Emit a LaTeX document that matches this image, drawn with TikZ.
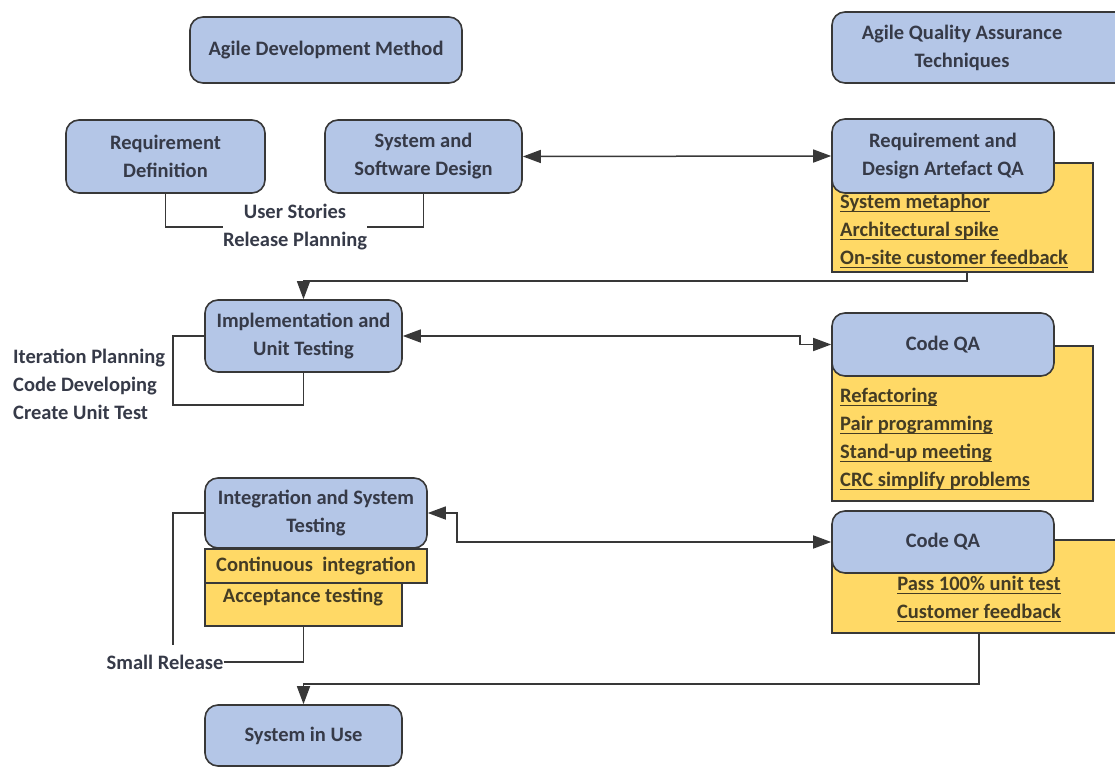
\documentclass[tikz,border=0pt]{standalone}
\usepackage{fontspec}
\setmainfont{Carlito}
\usetikzlibrary{arrows.meta}
\definecolor{boxblue}{HTML}{B4C6E7}
\definecolor{boxyellow}{HTML}{FFD966}
\definecolor{edge}{HTML}{383838}
\definecolor{ink}{HTML}{363A48}
\definecolor{itemink}{HTML}{443C24}
% underlined item text
\newcommand{\uln}[1]{\setbox0\hbox{#1}\rlap{\rule[-4pt]{\wd0}{1.3pt}}\box0}
\tikzset{
  base/.style={font=\fontsize{20.5}{28}\selectfont\bfseries, text=ink, align=center, inner sep=0pt},
  bluebox/.style={base, draw=edge, line width=1.6pt, fill=boxblue, rounded corners=13pt},
  yellowbox/.style={draw=edge, line width=1.1pt, fill=boxyellow, inner sep=0pt},
  items/.style={base, text=itemink, align=left},
  link/.style={draw=edge, line width=1.5pt},
  tip/.tip={Triangle[length=18pt,width=13pt]},
  arr/.style={link, -tip},
  biarr/.style={link, tip-tip},
}
\begin{document}
\begin{tikzpicture}[x=1pt,y=-1pt]
\clip (0,0) rectangle (1115,767);
\fill[white] (0,0) rectangle (1115,767);

% headings
\node[bluebox, minimum width=272pt, minimum height=66pt] (adm) at (326,50) {Agile Development Method};
\node[bluebox, minimum width=303pt, minimum height=71pt] (aqat) at (983.5,47.5) {};
\node[base] (aqatlabel) at (962,48) {Agile Quality Assurance\\Techniques};

% quality assurance panels (yellow first, blue headers on top)
\node[yellowbox, minimum width=261pt, minimum height=109pt] (y1) at (962.5,217.5) {};
\node[yellowbox, minimum width=261pt, minimum height=155pt] (y2) at (962.5,423.5) {};
\node[yellowbox, minimum width=303pt, minimum height=93pt] (y3) at (983.5,586.5) {};

\node[bluebox, minimum width=222pt, minimum height=74pt] (rdqa) at (943,156) {Requirement and\\Design Artefact QA};
\node[bluebox, minimum width=222pt, minimum height=63pt] (cq1) at (943,344.5) {Code QA};
\node[bluebox, minimum width=222pt, minimum height=62pt] (cq2) at (943,542) {Code QA};

\node[items, anchor=west] (i1) at (840,231) {\uln{System metaphor}\\\uln{Architectural spike}\\\uln{On-site customer feedback}};
\node[items, anchor=west] (i2) at (840,439) {\uln{Refactoring}\\\uln{Pair programming}\\\uln{Stand-up meeting}\\\uln{CRC simplify problems}};
\node[items, align=center] (i3) at (979,599) {\uln{Pass 100\% unit test}\\\uln{Customer feedback}};

% development phases
\node[bluebox, minimum width=199pt, minimum height=73pt] (rd) at (165.5,156.5) {Requirement\\Definition};
\node[bluebox, minimum width=197pt, minimum height=73pt] (ssd) at (423.5,156.5) {System and\\Software Design};
\node[bluebox, minimum width=197pt, minimum height=72pt] (impl) at (303.5,336) {Implementation and\\Unit Testing};
\node[yellowbox, minimum width=222pt, minimum height=34pt] (ci) at (316,566) {};
\node[base, text=itemink] (cilabel) at (316,566) {Continuous\ \ integration};
\node[yellowbox, minimum width=197pt, minimum height=43pt] (at) at (303.5,604.5) {};
\node[base, text=itemink] (atlabel) at (303,597) {Acceptance testing};
\node[bluebox, minimum width=222pt, minimum height=70pt] (intg) at (316,513) {Integration and System\\Testing};
\node[bluebox, minimum width=197pt, minimum height=61pt] (siu) at (303.5,735.5) {System in Use};

% practice labels
\node[base] (us) at (295,227) {User Stories\\Release Planning};
\node[base, align=left, anchor=west] (ip) at (13,384) {Iteration Planning\\Code Developing\\Create Unit Test};
\node[base] (sr) at (165,662) {Small Release};

% connectors
\draw[link] (rd.south) |- (us.west);
\draw[link] (ssd.south) |- (us.east);
\draw[biarr] (ssd.east) -- (rdqa.west);
\coordinate (c1) at (967,281);
\draw[arr] (y1.south -| c1) -- (c1) -| (impl.north);
\draw[link] (impl.west) -| (173,405) -| (impl.south);
\draw[biarr] (impl.east) -- (800,336) |- (cq1.west);
\draw[biarr] (intg.east) -- (457,513) |- (cq2.west);
\draw[link] (intg.west) -| (173,645);
\draw[link] (sr.east) -| (at.south);
\coordinate (c2) at (979,684);
\draw[arr] (y3.south -| c2) -- (c2) -| (siu.north);
\end{tikzpicture}
\end{document}
